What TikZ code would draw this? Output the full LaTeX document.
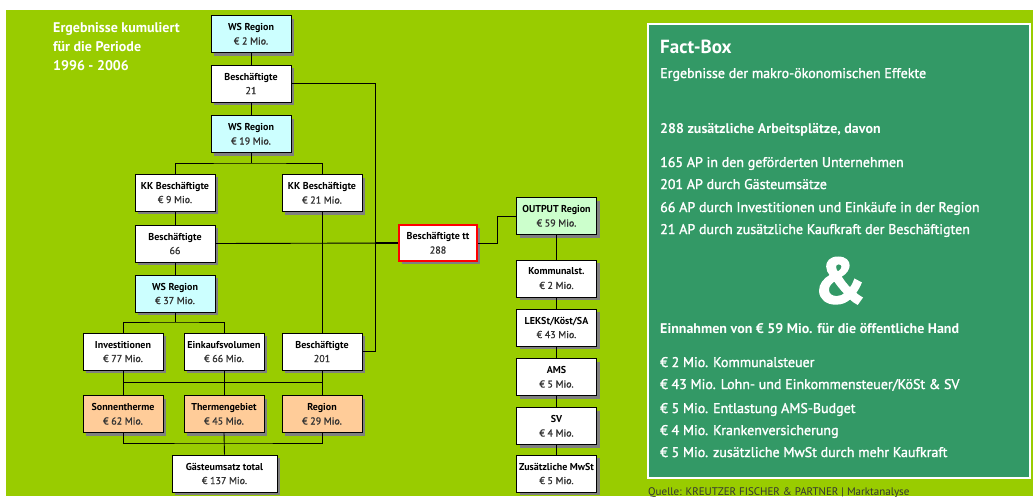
\documentclass[tikz,border=0pt]{standalone}
\usepackage{fontspec}
\setmainfont{PT Sans}
\newfontfamily\medfam[BoldFont={PT Sans}, BoldFeatures={FakeBold=1.6}]{PT Sans}
\newfontfamily\valfam[BoldFont={PT Sans}, BoldFeatures={FakeBold=1.0}]{PT Sans}
\newcommand{\medfont}{\medfam\bfseries}
\newcommand{\valfont}{\valfam\bfseries}
\newfontfamily\ampfont[BoldFeatures={FakeBold=2.5}]{PT Sans}
\usetikzlibrary{shadows}
\definecolor{bggreen}{HTML}{99CC00}
\definecolor{factgreen}{HTML}{339966}
\definecolor{wscyan}{HTML}{CCFFFF}
\definecolor{outgreen}{HTML}{CCFFCC}
\definecolor{gorange}{HTML}{FFCC99}
\definecolor{shadowgray}{HTML}{808080}
\definecolor{valgray}{HTML}{333333}
\definecolor{srcdark}{HTML}{333333}
\newcommand{\boxtxt}[2]{\textbf{#1}\\{\valfont\textcolor{valgray}{#2}}}
\tikzset{
  box/.style={draw=black, line width=0.9pt, fill=white, minimum width=80pt, minimum height=37pt,
    inner sep=0pt, align=center, font=\fontsize{10}{14}\selectfont,
    drop shadow={shadow xshift=3pt, shadow yshift=-3pt, fill=shadowgray, opacity=1}},
  conn/.style={draw=black, line width=0.9pt},
  facttxt/.style={anchor=base west, inner sep=0pt, text=white, font=\fontsize{14}{16}\selectfont\medfont},
  factbold/.style={anchor=base west, inner sep=0pt, text=white, font=\fontsize{14}{16}\selectfont\bfseries},
  titletxt/.style={anchor=base west, inner sep=0pt, text=white, font=\fontsize{14}{19}\selectfont\bfseries},
}
\begin{document}
\begin{tikzpicture}[x=1pt,y=-1pt]
\useasboundingbox (0,0) rectangle (1033,496);
\fill[white] (0,0) rectangle (1033,496);
\fill[bggreen] (6,10) rectangle (1033,496);
% fact box
\draw[white, line width=1.5pt, fill=factgreen] (648,24) rectangle (1030,478);

% title
\node[titletxt] (title1) at (53,32) {Ergebnisse kumuliert};
\node[titletxt] (title2) at (53,51) {für die Periode};
\node[titletxt] (title3) at (53,70) {1996 - 2006};

% bus coordinates
\coordinate (bus1) at (251,163);
\coordinate (bus4) at (175,322);
\coordinate (bus2) at (224,382);
\coordinate (bus3) at (224,443);
\coordinate (vx) at (375,243);
\coordinate (jx) at (497,216);

% nodes
\node[box, fill=wscyan] (ws2) at (251,34) {\boxtxt{WS Region}{€ 2 Mio.}};
\node[box] (b21) at (251,83.5) {\boxtxt{Beschäftigte}{21}};
\node[box, fill=wscyan] (ws19) at (251,134) {\boxtxt{WS Region}{€ 19 Mio.}};
\node[box] (kk9) at (175,192.5) {\boxtxt{KK Beschäftigte}{€ 9 Mio.}};
\node[box] (kk21) at (322,193) {\boxtxt{KK Beschäftigte}{€ 21 Mio.}};
\node[box] (b66) at (175,243.5) {\boxtxt{Beschäftigte}{66}};
\node[box, fill=wscyan] (ws37) at (175,293.5) {\boxtxt{WS Region}{€ 37 Mio.}};
\node[box] (inv) at (123,351.5) {\boxtxt{Investitionen}{€ 77 Mio.}};
\node[box] (eink) at (224,351.5) {\boxtxt{Einkaufsvolumen}{€ 66 Mio.}};
\node[box] (b201) at (322,351.5) {\boxtxt{Beschäftigte}{201}};
\node[box, fill=gorange] (sonn) at (123,414) {\boxtxt{Sonnentherme}{€ 62 Mio.}};
\node[box, fill=gorange] (therm) at (224,414) {\boxtxt{Thermengebiet}{€ 45 Mio.}};
\node[box, fill=gorange] (reg) at (322,414) {\boxtxt{Region}{€ 29 Mio.}};
\node[box, minimum width=105pt] (gast) at (224.5,473.5) {\boxtxt{Gästeumsatz total}{€ 137 Mio.}};
\node[box, draw=red, line width=2.6pt, minimum width=78pt, minimum height=36pt] (tt) at (438,243) {\boxtxt{Beschäftigte tt}{288}};
\node[box, fill=outgreen] (out) at (556.5,216) {\boxtxt{OUTPUT Region}{€ 59 Mio.}};
\node[box] (komm) at (556.5,278.5) {\boxtxt{Kommunalst.}{€ 2 Mio.}};
\node[box] (lek) at (556.5,327.5) {\boxtxt{LEKSt/Köst/SA}{€ 43 Mio.}};
\node[box] (ams) at (556.5,377) {\boxtxt{AMS}{€ 5 Mio.}};
\node[box] (sv) at (556.5,426) {\boxtxt{SV}{€ 4 Mio.}};
\node[box] (mwst) at (556.5,473.5) {\boxtxt{Zusätzliche MwSt}{€ 5 Mio.}};

% connectors
\draw[conn] (ws2.south) -- (b21.north);
\draw[conn] (b21.south) -- (ws19.north);
\draw[conn] (ws19.south) -- (bus1);
\draw[conn] (kk9.north) |- (bus1) -| (kk21.north);
\draw[conn] (kk9.south) -- (b66.north);
\draw[conn] (b66.south) -- (ws37.north);
\draw[conn] (ws37.south) -- (bus4);
\draw[conn] (inv.north) |- (bus4) -| (eink.north);
\draw[conn] (kk21.south) -- (b201.north);
\draw[conn] (inv.south) -- (sonn.north);
\draw[conn] (eink.south) -- (therm.north);
\draw[conn] (b201.south) -- (reg.north);
\draw[conn] (inv.south |- bus2) -- (b201.south |- bus2);
\draw[conn] (sonn.south) |- (bus3) -| (reg.south);
\draw[conn] (therm.south) -- (gast.north);
\draw[conn] (b21.east) -| (vx);
\draw[conn] (b201.east) -| (vx);
\draw[conn] (b66.east) -- (tt.west);
\draw[conn, line width=1.6pt] (vx) -- (tt.west);
\draw[conn] (tt.east) -| (jx) -- (out.west);
\draw[conn] (out.south) -- (komm.north);
\draw[conn] (komm.south) -- (lek.north);
\draw[conn] (lek.south) -- (ams.north);
\draw[conn] (ams.south) -- (sv.north);
\draw[conn] (sv.south) -- (mwst.north);

% fact box text
\node[factbold, font=\fontsize{19}{20}\selectfont\bfseries] (fh) at (660,53) {Fact-Box};
\node[facttxt] (f1) at (660,78) {Ergebnisse der makro-ökonomischen Effekte};
\node[factbold] (f2) at (660,133) {288 zusätzliche Arbeitsplätze, davon};
\node[facttxt] (f3) at (660,167) {165 AP in den geförderten Unternehmen};
\node[facttxt] (f4) at (660,189) {201 AP durch Gästeumsätze};
\node[facttxt] (f5) at (660,212) {66 AP durch Investitionen und Einkäufe in der Region};
\node[facttxt] (f6) at (660,234) {21 AP durch zusätzliche Kaufkraft der Beschäftigten};
\node[anchor=base, inner sep=0pt, text=white, font=\fontsize{64}{66}\selectfont\ampfont\bfseries] (amp) at (840,303) {\&};
\node[factbold] (f7) at (660,333) {Einnahmen von € 59 Mio. für die öffentliche Hand};
\node[facttxt] (f8) at (660,367) {€ 2 Mio. Kommunalsteuer};
\node[facttxt] (f9) at (660,389) {€ 43 Mio. Lohn- und Einkommensteuer/KöSt \& SV};
\node[facttxt] (f10) at (660,413) {€ 5 Mio. Entlastung AMS-Budget};
\node[facttxt] (f11) at (660,435) {€ 4 Mio. Krankenversicherung};
\node[facttxt] (f12) at (660,457) {€ 5 Mio. zusätzliche MwSt durch mehr Kaufkraft};
\node[anchor=base west, inner sep=0pt, text=srcdark, font=\fontsize{11}{13}\selectfont] (src) at (648,495) {Quelle: KREUTZER FISCHER \& PARTNER | Marktanalyse};
\end{tikzpicture}
\end{document}
